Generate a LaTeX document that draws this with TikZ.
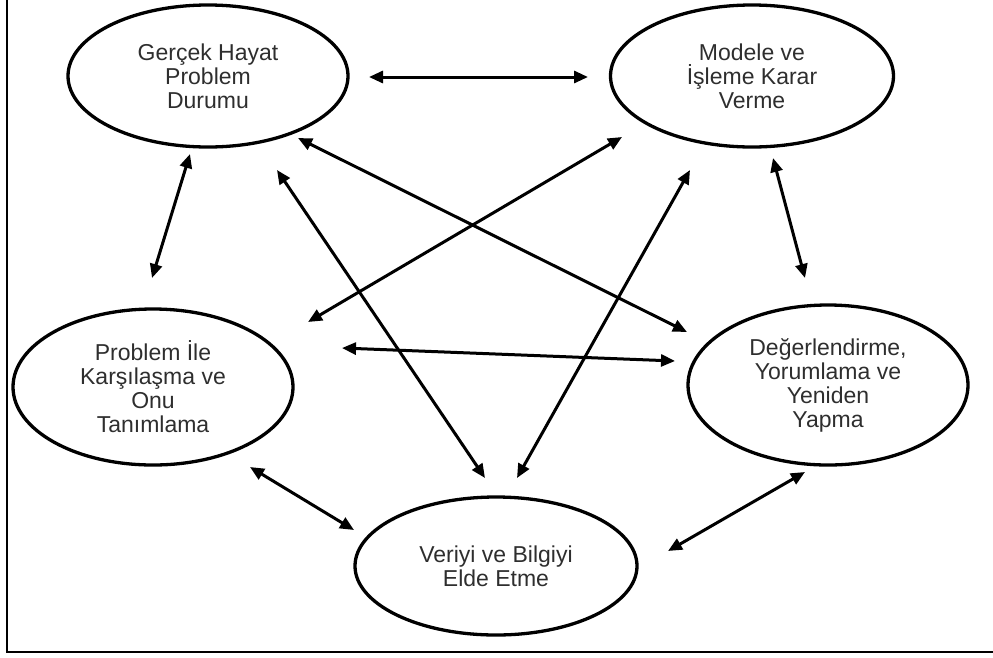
\documentclass[tikz,border=0pt]{standalone}
\usepackage{fontspec}
\setmainfont{Liberation Sans}
\usetikzlibrary{shapes.geometric,arrows.meta,calc}
\definecolor{txtgray}{HTML}{2E2E2E}
\tikzset{
  stage/.style={ellipse, draw=black, line width=3.3pt, inner sep=0pt,
    align=center, text=txtgray,
    font=\fontsize{23}{24}\selectfont},
  link/.style={line width=3pt, draw=black,
    {Triangle[length=14pt,width=12pt]}-{Triangle[length=14pt,width=12pt]}},
  frameline/.style={line width=2.5pt, draw=black}
}
\begin{document}
\begin{tikzpicture}[x=1pt,y=-1pt]
\useasboundingbox (0,0) rectangle (993,657);

% open frame: left side and bottom
\coordinate (ftop) at (7,-2);
\coordinate (fcorner) at (7,652);
\coordinate (fright) at (995,652);
\draw[frameline] (ftop) -- (fcorner) -- (fright);

% stages
\node[stage, minimum width=280pt, minimum height=142pt] (gh) at (208,76)
  {Gerçek Hayat\\Problem\\Durumu};
\node[stage, minimum width=283pt, minimum height=142pt] (mi) at (752,76)
  {Modele ve\\İşleme Karar\\Verme};
\node[stage, minimum width=280pt, minimum height=156pt] (pt) at (153,387)
  {Problem İle\\Karşılaşma ve\\Onu\\Tanımlama};
\node[stage, minimum width=280pt, minimum height=160pt] (dy) at (828,385)
  {Değerlendirme,\\Yorumlama ve\\Yeniden\\Yapma};
\node[stage, minimum width=282pt, minimum height=138pt] (vb) at (496,566)
  {Veriyi ve Bilgiyi\\Elde Etme};

% two-way links between stages
\draw[link] ($(gh)+(161,1)$)  -- ($(mi)+(-164,1)$);
\draw[link] ($(gh)+(-18,78)$) -- ($(pt)+(-1,-109)$);
\draw[link] ($(gh)+(90,62)$)  -- ($(dy)+(-141,-53)$);
\draw[link] ($(gh)+(69,94)$)  -- ($(vb)+(-11,-88)$);
\draw[link] ($(mi)+(-130,61)$) -- ($(pt)+(155,-65)$);
\draw[link] ($(mi)+(-62,94)$) -- ($(vb)+(21,-88)$);
\draw[link] ($(mi)+(21,82)$)  -- ($(dy)+(-23,-107)$);
\draw[link] ($(pt)+(189,-39)$) -- ($(dy)+(-153,-24)$);
\draw[link] ($(pt)+(97,80)$)  -- ($(vb)+(-142,-36)$);
\draw[link] ($(dy)+(-23,87)$) -- ($(vb)+(172,-15)$);
\end{tikzpicture}
\end{document}
